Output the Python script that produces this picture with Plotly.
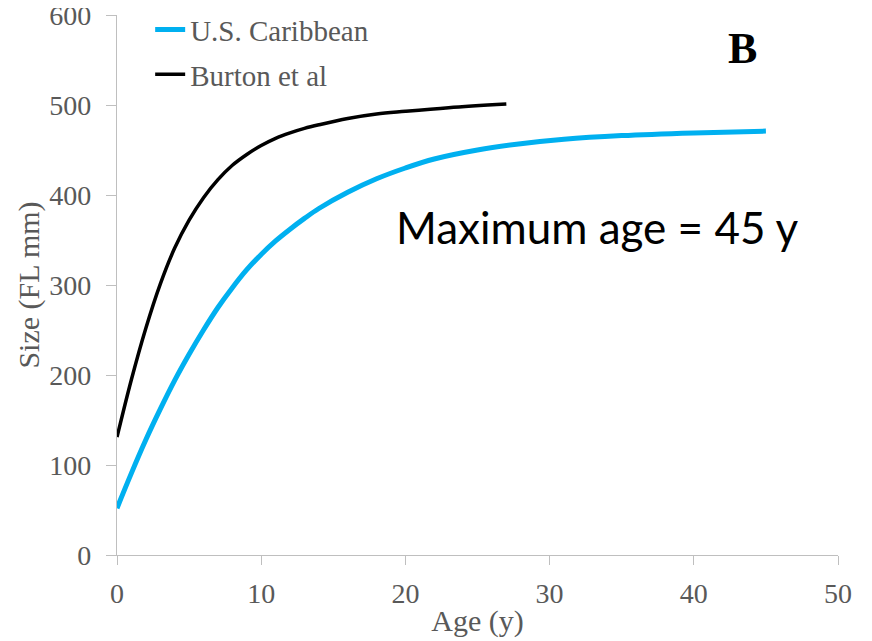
import plotly.graph_objects as go

# Growth curves (age in years, fork length in mm)
carib_age = [0, 1, 2, 3, 4, 5, 6, 7, 8, 9, 10, 11, 12, 13, 14, 16, 18, 20, 22, 25, 28, 31, 35, 40, 45]
carib_size = [52, 91, 128, 162, 194, 223, 250, 275, 297, 317, 334, 349, 362, 374, 385,
              403, 418, 430, 440, 450, 457, 462, 466, 469, 471]

burton_age = [0, 1, 2, 3, 4, 5, 6, 7, 8, 9, 10, 11, 12, 13, 14, 16, 18, 20, 23, 27]
burton_size = [131, 195, 252, 301, 341, 372, 397, 417, 433, 445, 455, 463, 469, 474, 478,
               485, 490, 493, 497, 501]

x_ticks = [0, 10, 20, 30, 40, 50]
y_ticks = [0, 100, 200, 300, 400, 500, 600]

serif = "Liberation Serif, Times New Roman, serif"
grey = "#595959"
axis_grey = "#BFBFBF"

fig = go.Figure()

# Caribbean curve
fig.add_trace(go.Scatter(
    x=carib_age, y=carib_size,
    mode="lines", name="U.S. Caribbean",
    line=dict(color="#00B0F0", width=5, shape="spline"),
    legendgroup="a",
))

# Burton et al curve
fig.add_trace(go.Scatter(
    x=burton_age, y=burton_size,
    mode="lines", name="Burton et al",
    line=dict(color="#000000", width=3.5, shape="spline"),
    legendgroup="b",
))

# page body adds an 8px margin, so the figure is 8px smaller than the window
fig.update_layout(
    width=864, height=633,
    margin=dict(l=109, r=34, t=7, b=86, autoexpand=False),
    paper_bgcolor="white", plot_bgcolor="white",
    font=dict(family=serif, size=28, color=grey),
    showlegend=True,
    legend=dict(
        x=0.046, y=1.02, xanchor="left", yanchor="top",
        bgcolor="rgba(0,0,0,0)", font=dict(family=serif, size=29, color=grey),
        tracegroupgap=4, itemwidth=30,
    ),
    xaxis=dict(
        range=[0, 50], tickvals=x_ticks, showgrid=False, zeroline=False,
        showline=True, linecolor=axis_grey, linewidth=1.3, automargin=False,
        ticks="outside", ticklen=9, tickcolor=axis_grey, tickwidth=1.3,
        tickfont=dict(family=serif, size=28, color=grey),
        ticklabelstandoff=4, ticklabeloverflow="allow",
        title=dict(text="Age (y)", font=dict(family=serif, size=30, color=grey), standoff=2),
    ),
    yaxis=dict(
        range=[0, 600], tickvals=y_ticks, showgrid=False, zeroline=False,
        showline=True, linecolor=axis_grey, linewidth=1.3, automargin=False,
        ticks="outside", ticklen=10, tickcolor=axis_grey, tickwidth=1.3,
        tickfont=dict(family=serif, size=28, color=grey),
        ticklabelstandoff=9, ticklabeloverflow="allow",
        title=dict(text="Size (FL mm)", font=dict(family=serif, size=30, color=grey), standoff=0),
    ),
)

fig.add_annotation(
    x=33.3, y=364, xref="x", yref="y", text="Maximum age = 45 y",
    showarrow=False, font=dict(family="Lato, Open Sans, sans-serif", size=44, color="black"),
)
fig.add_annotation(
    x=43.4, y=563, xref="x", yref="y", text="<b>B</b>",
    showarrow=False, font=dict(family=serif, size=44, color="black"),
)

fig.write_html("out.html")
